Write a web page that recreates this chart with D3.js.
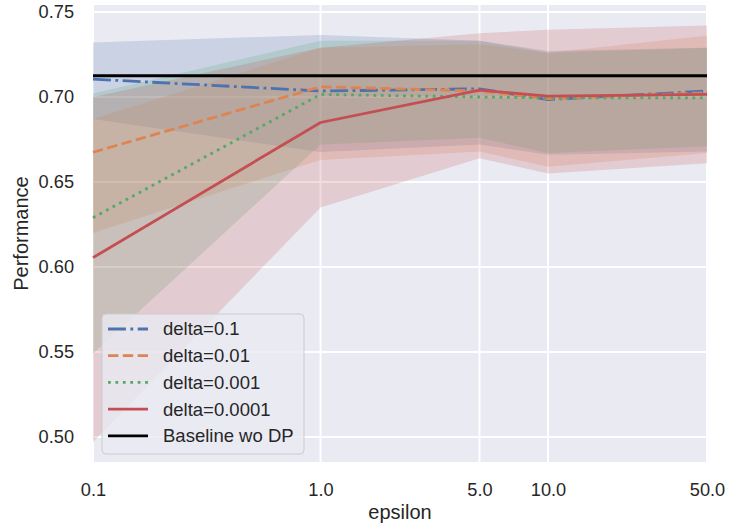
<!DOCTYPE html>
<html>
<head>
<meta charset="utf-8">
<script src="https://cdn.jsdelivr.net/npm/d3@7"></script>
<style>
  body { margin: 0; background: #fff; }
  text { font-family: "Liberation Sans", Arial, sans-serif; fill: #262626; }
</style>
</head>
<body>
<div id="container"></div>
<script>
// epsilon values on the x axis
const epsilons = [0.1, 1, 5, 10, 50];
const xTickLabels = ['0.1', '1.0', '5.0', '10.0', '50.0'];
const yTicks = [0.50, 0.55, 0.60, 0.65, 0.70, 0.75];

const seriesNames = ['delta=0.1', 'delta=0.01', 'delta=0.001', 'delta=0.0001'];

// mean performance per series
const meanD01 = [0.7105, 0.7035, 0.7048, 0.6985, 0.7035];
const meanD001 = [0.6675, 0.706, 0.7035, 0.699, 0.7025];
const meanD0001 = [0.629, 0.7015, 0.700, 0.6995, 0.6995];
const meanD00001 = [0.6055, 0.685, 0.704, 0.7005, 0.7015];

// confidence band (lower / upper)
const loD01 = [0.687, 0.6676, 0.672, 0.666, 0.668];
const hiD01 = [0.732, 0.7365, 0.733, 0.727, 0.729];
const loD001 = [0.620, 0.663, 0.668, 0.659, 0.667];
const hiD001 = [0.687, 0.729, 0.731, 0.726, 0.736];
const loD0001 = [0.549, 0.672, 0.676, 0.667, 0.671];
const hiD0001 = [0.702, 0.733, 0.733, 0.726, 0.729];
const loD00001 = [0.497, 0.635, 0.664, 0.655, 0.661];
const hiD00001 = [0.700, 0.729, 0.7375, 0.7395, 0.742];

const baseline = 0.7125;

const width = 729;
const height = 527;
const margin = { left: 93, right: 22, top: 5, bottom: 65 };

const colors = ['#4c72b0', '#dd8452', '#55a868', '#c44e52'];
const lw = 2.8;
const dashes = [
  [6.4 * lw, 1.6 * lw, 1 * lw, 1.6 * lw].join(','),
  [3.7 * lw, 1.6 * lw].join(','),
  [1 * lw, 1.65 * lw].join(','),
  null,
];

const series = seriesNames.map((name, i) => ({
  name,
  color: colors[i],
  dash: dashes[i],
  mean: [meanD01, meanD001, meanD0001, meanD00001][i],
  lo: [loD01, loD001, loD0001, loD00001][i],
  hi: [hiD01, hiD001, hiD0001, hiD00001][i],
}));

const svg = d3.select('#container').append('svg')
  .attr('width', width).attr('height', height);

const x = d3.scaleLog().domain([0.1, 50]).range([margin.left, width - margin.right]);
const y = d3.scaleLinear().domain([0.4853, 0.7541]).range([height - margin.bottom, margin.top]);

// --- background + grid ---
svg.append('rect')
  .attr('x', x.range()[0]).attr('y', y.range()[1])
  .attr('width', x.range()[1] - x.range()[0])
  .attr('height', y.range()[0] - y.range()[1])
  .attr('fill', '#eaeaf2');

const grid = svg.append('g').attr('stroke', '#fff').attr('stroke-width', 2);
grid.selectAll('.gx').data(epsilons).join('line')
  .attr('x1', d => x(d)).attr('x2', d => x(d))
  .attr('y1', y.range()[1]).attr('y2', y.range()[0]);
grid.selectAll('.gy').data(yTicks).join('line')
  .attr('y1', d => y(d)).attr('y2', d => y(d))
  .attr('x1', x.range()[0]).attr('x2', x.range()[1]);

// --- axes ---
const xAxis = svg.append('g')
  .attr('transform', `translate(0,${y.range()[0]})`)
  .call(d3.axisBottom(x).tickValues(epsilons).tickFormat((d, i) => xTickLabels[i]).tickSize(0).tickPadding(21));
const yAxis = svg.append('g')
  .attr('transform', `translate(${x.range()[0]},0)`)
  .call(d3.axisLeft(y).tickValues(yTicks).tickFormat(d3.format('.2f')).tickSize(0).tickPadding(19));
[xAxis, yAxis].forEach(a => {
  a.select('.domain').remove();
  a.selectAll('text').attr('font-size', 18.2).attr('fill', '#262626')
    .style('font-family', '"Liberation Sans", Arial, sans-serif');
});

svg.append('text')
  .attr('x', (x.range()[0] + x.range()[1]) / 2).attr('y', 519)
  .attr('text-anchor', 'middle').attr('font-size', 20)
  .text('epsilon');
svg.append('text')
  .attr('transform', `translate(28,${(y.range()[0] + y.range()[1]) / 2}) rotate(-90)`)
  .attr('text-anchor', 'middle').attr('font-size', 20)
  .text('Performance');

// --- bands (drawn under lines) ---
const area = d3.area()
  .x((d, i) => x(epsilons[i]))
  .y0(d => y(d[0]))
  .y1(d => y(d[1]));

svg.append('g').selectAll('path').data(series).join('path')
  .attr('d', s => area(s.lo.map((v, i) => [v, s.hi[i]])))
  .attr('fill', s => s.color)
  .attr('fill-opacity', 0.2);

// --- lines ---
const line = d3.line().x((d, i) => x(epsilons[i])).y(d => y(d));

svg.append('g').selectAll('path').data(series).join('path')
  .attr('d', s => line(s.mean))
  .attr('fill', 'none')
  .attr('stroke', s => s.color)
  .attr('stroke-width', lw)
  .attr('stroke-dasharray', s => s.dash);

svg.append('line')
  .attr('x1', x.range()[0]).attr('x2', x.range()[1])
  .attr('y1', y(baseline)).attr('y2', y(baseline))
  .attr('stroke', '#000').attr('stroke-width', lw);

// --- legend ---
const legendItems = series.map(s => ({ name: s.name, color: s.color, dash: s.dash }))
  .concat([{ name: 'Baseline wo DP', color: '#000', dash: null }]);

const legend = svg.append('g').attr('transform', 'translate(102,314)');
legend.append('rect')
  .attr('width', 202).attr('height', 140).attr('rx', 4)
  .attr('fill', '#eaeaf2').attr('fill-opacity', 0.8)
  .attr('stroke', '#cccccc').attr('stroke-width', 1);

const rows = legend.selectAll('g.row').data(legendItems).join('g')
  .attr('transform', (d, i) => `translate(0,${15 + i * 26.7})`);
rows.append('line')
  .attr('x1', 6).attr('x2', 46)
  .attr('stroke', d => d.color).attr('stroke-width', lw)
  .attr('stroke-dasharray', d => d.dash);
rows.append('text')
  .attr('x', 61).attr('dy', '0.35em')
  .attr('font-size', 18.5)
  .text(d => d.name);
</script>
</body>
</html>
